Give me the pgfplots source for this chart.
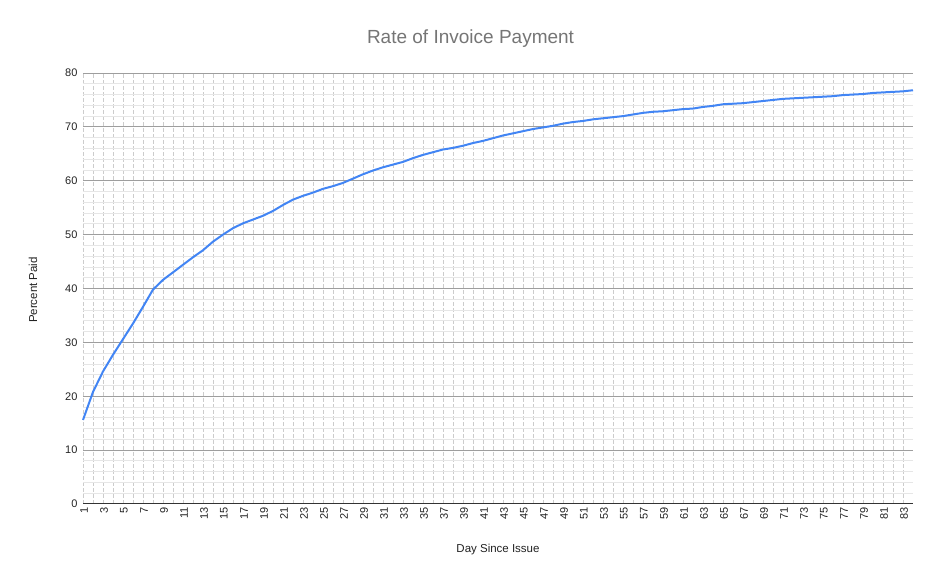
\documentclass[border=0pt]{standalone}
\usepackage{fontspec}
\setmainfont{Liberation Sans}
\usepackage{pgfplots}
\pgfplotsset{compat=1.18}
\definecolor{lineblue}{HTML}{4285F4}
\definecolor{titlegray}{HTML}{757575}
\definecolor{majgrid}{HTML}{9E9E9E}
\definecolor{mingrid}{HTML}{E6E6E6}
\definecolor{vgrid}{HTML}{CCCCCC}
\definecolor{ticktext}{HTML}{222222}
\begin{document}
\begin{tikzpicture}
\path[use as bounding box] (0,0) rectangle (941bp,582bp);
\begin{axis}[
  at={(83bp,78bp)}, anchor=south west,
  scale only axis, width=830bp, height=431bp,
  xmin=1, xmax=84, ymin=0, ymax=80,
  xtick={1,3,...,83},
  ytick={0,10,...,80},
  minor x tick num=1,
  minor y tick num=4,
  major tick length=0pt, minor tick length=0pt,
  xmajorgrids, xminorgrids, ymajorgrids, yminorgrids,
  x grid style={draw=vgrid, line width=0.8bp, dash pattern=on 4bp off 2bp},
  minor x grid style={draw=vgrid, line width=0.8bp, dash pattern=on 4bp off 2bp},
  major y grid style={draw=majgrid, line width=1bp},
  minor y grid style={draw=mingrid, line width=0.8bp},
  axis x line*=bottom, axis y line*=left,
  x axis line style={draw=black!80, line width=1bp, -},
  y axis line style={draw=none},
  /pgf/number format/assume math mode=true,
  tick label style={font=\fontsize{11bp}{13bp}\selectfont, text=ticktext},
  xticklabel style={rotate=90, anchor=east, xshift=0bp, yshift=-1bp},
  yticklabel style={xshift=-2bp},
  xlabel={Day Since Issue},
  ylabel={Percent Paid},
  xlabel style={at={(axis description cs:0.5,-0.1045)}, anchor=center, font=\fontsize{11.5bp}{14bp}\selectfont, text=ticktext},
  ylabel style={at={(axis description cs:-0.0602,0.4965)}, anchor=center, rotate=0, font=\fontsize{11.5bp}{14bp}\selectfont, text=ticktext},
  title={Rate of Invoice Payment},
  title style={at={(axis description cs:0.4669,1.0650)}, anchor=center, font=\fontsize{19bp}{22bp}\selectfont, text=titlegray},
  clip=false,
]
\addplot[lineblue, line width=2bp, line join=round, no markers] coordinates {
(1,15.6) (2,20.8) (3,24.6) (4,27.7) (5,30.6) (6,33.5) (7,36.6) (8,39.8)
(9,41.6) (10,43.0) (11,44.4) (12,45.8) (13,47.1) (14,48.7) (15,50.0) (16,51.2)
(17,52.1) (18,52.8) (19,53.5) (20,54.4) (21,55.5) (22,56.5) (23,57.2) (24,57.8)
(25,58.5) (26,59.0) (27,59.6) (28,60.4) (29,61.2) (30,61.9) (31,62.5) (32,63.0)
(33,63.5) (34,64.2) (35,64.8) (36,65.3) (37,65.8) (38,66.1) (39,66.5) (40,67.0)
(41,67.4) (42,67.9) (43,68.4) (44,68.8) (45,69.2) (46,69.6) (47,69.9) (48,70.2)
(49,70.6) (50,70.9) (51,71.1) (52,71.4) (53,71.6) (54,71.8) (55,72.0) (56,72.3)
(57,72.6) (58,72.8) (59,72.9) (60,73.1) (61,73.3) (62,73.4) (63,73.7) (64,73.9)
(65,74.2) (66,74.3) (67,74.4) (68,74.6) (69,74.8) (70,75.0) (71,75.2) (72,75.3)
(73,75.4) (74,75.5) (75,75.6) (76,75.7) (77,75.9) (78,76.0) (79,76.1) (80,76.3)
(81,76.4) (82,76.5) (83,76.6) (84,76.8)
};
\end{axis}
\end{tikzpicture}
\end{document}
